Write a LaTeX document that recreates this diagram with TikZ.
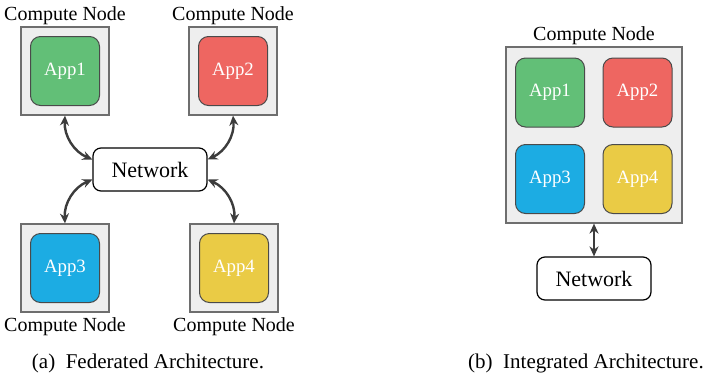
\documentclass[tikz,border=0pt]{standalone}
\usepackage{fontspec}
\setmainfont{Liberation Serif}
\usetikzlibrary{positioning, arrows.meta}

\definecolor{hostfill}{HTML}{EEEEEE}
\definecolor{hostline}{HTML}{6E6E6E}
\definecolor{appline}{HTML}{4A4A4A}
\definecolor{linkgray}{HTML}{3C3C3C}
\definecolor{appgreen}{HTML}{62BF77}
\definecolor{appred}{HTML}{EE6661}
\definecolor{appblue}{HTML}{1CACE3}
\definecolor{appyellow}{HTML}{EACB45}

\begin{document}
\begin{tikzpicture}[x=0.5pt, y=-0.5pt,
					host/.style={draw=hostline, fill=hostfill, line width=0.6pt, minimum size=44pt, inner sep=0pt},
					bighost/.style={host, minimum size=88pt},
					app/.style={draw=appline, line width=0.5pt, rounded corners=5pt, minimum size=34.5pt, inner sep=0pt, text=white, font=\fontsize{9.4}{11}\selectfont},
					net/.style={draw=black, line width=0.6pt, rounded corners=4pt, minimum width=57pt, minimum height=21.5pt, inner sep=0pt, font=\fontsize{11}{13}\selectfont},
					hostlabel/.style={font=\fontsize{9.5}{11}\selectfont},
					toplabel/.style={label={[label distance=-2.5pt]above:Compute Node}},
					botlabel/.style={label={[label distance=-1pt]below:Compute Node}},
					link/.style={<->, >={Stealth[length=5pt, width=4.5pt]}, line width=1.2pt, draw=linkgray},
					caption/.style={font=\fontsize{10.5}{12}\selectfont}]

	\useasboundingbox (0,0) rectangle (707,376);

	% (a) federated
	\node[host, hostlabel, toplabel] (h1) at (65,71)  {};
	\node[host, hostlabel, toplabel] (h2) at (233,71) {};
	\node[host, hostlabel, botlabel] (h3) at (65,268) {};
	\node[host, hostlabel, botlabel] (h4) at (234,268) {};
	\node[app, fill=appgreen]  (a1) at (h1) {App1};
	\node[app, fill=appred]    (a2) at (h2) {App2};
	\node[app, fill=appblue]   (a3) at (h3) {App3};
	\node[app, fill=appyellow] (a4) at (h4) {App4};
	\node[net] (n1) at (150,169.5) {Network};

	\draw[link] (h1.south) to[bend right=35] ([yshift=5pt]n1.west);
	\draw[link] (h2.south) to[bend left=35]  ([yshift=5pt]n1.east);
	\draw[link] (h3.north) to[bend left=35]  ([yshift=-5pt]n1.west);
	\draw[link] (h4.north) to[bend right=35] ([yshift=-5pt]n1.east);

	\node[caption] (ca) at (148,363) {(a)~~Federated Architecture.};

	% (b) integrated
	\node[bighost, hostlabel, toplabel] (h0) at (594,135) {};
	\node[app, fill=appgreen]  (b1) at (550,92.5)  {App1};
	\node[app, fill=appred]    (b2) at (637.5,92.5) {App2};
	\node[app, fill=appblue]   (b3) at (550,179)  {App3};
	\node[app, fill=appyellow] (b4) at (637.5,179) {App4};
	\node[net] (n0) at (594,278.5) {Network};

	\draw[link] (h0.south) -- (n0.north);

	\node[caption] (cb) at (586,363) {(b)~~Integrated Architecture.};
\end{tikzpicture}
\end{document}
